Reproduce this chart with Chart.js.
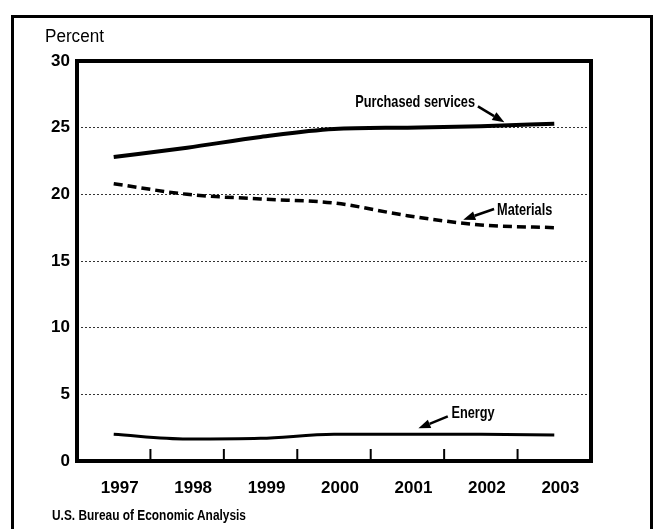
<!DOCTYPE html>
<html>
<head>
<meta charset="utf-8">
<script src="https://cdn.jsdelivr.net/npm/chart.js@4.4.1/dist/chart.umd.min.js"></script>
<style>
  html, body { margin: 0; padding: 0; background: #fff; }
  #wrap { position: relative; width: 654px; height: 529px; overflow: hidden; }
  #frame { position: absolute; left: 11px; top: 15px; width: 642px; height: 600px; border: 3px solid #000; box-sizing: border-box; }
  #chart { position: absolute; left: 0; top: 0; }
  .lbl { position: absolute; color: #000; white-space: nowrap; transform-origin: left top; }
  #unit { left: 45px; top: 26px; font: 18px "Liberation Sans", Arial, sans-serif; transform: scaleX(0.95); }
  #source { left: 52px; top: 507px; font: bold 14px "Liberation Sans", Arial, sans-serif; transform: scaleX(0.85); }
</style>
</head>
<body>
<div id="wrap">
  <div id="frame"></div>
  <canvas id="chart" width="654" height="529"></canvas>
  <div class="lbl" id="unit">Percent</div>
  <div class="lbl" id="source">U.S. Bureau of Economic Analysis</div>
</div>
<script>
const years = ["1997", "1998", "1999", "2000", "2001", "2002", "2003"]
const purchasedServices = [22.8, 23.5, 24.3, 24.9, 25.0, 25.1, 25.3]
const materials = [20.8, 20.0, 19.65, 19.35, 18.4, 17.7, 17.5]
const energy = [2.0, 1.65, 1.7, 2.0, 2.0, 2.0, 1.95]
const yMin = 0
const yMax = 30
const yStep = 5

const tickFont = { family: "'Liberation Sans', Arial, sans-serif", size: 17, weight: "bold" }
const noteFont = "bold 17px 'Liberation Sans', Arial, sans-serif"
const noteSqueeze = 0.75

// label text, anchor (category index, value), arrow tail -> head
const notes = [
  { text: "Purchased services", at: [4.92, 26.9], align: "right", from: [4.96, 26.6], to: [5.32, 25.4] },
  { text: "Materials", at: [5.22, 18.8], align: "left", from: [5.18, 18.9], to: [4.76, 18.1] },
  { text: "Energy", at: [4.6, 3.6], align: "left", from: [4.55, 3.35], to: [4.15, 2.45] },
]

function drawArrow(ctx, x1, y1, x2, y2) {
  const ang = Math.atan2(y2 - y1, x2 - x1)
  const headLen = 12
  const bx = x2 - headLen * Math.cos(ang)
  const by = y2 - headLen * Math.sin(ang)
  ctx.lineWidth = 2.5
  ctx.beginPath()
  ctx.moveTo(x1, y1)
  ctx.lineTo(bx, by)
  ctx.stroke()
  ctx.beginPath()
  ctx.moveTo(x2, y2)
  ctx.lineTo(bx + 4.5 * Math.sin(ang), by - 4.5 * Math.cos(ang))
  ctx.lineTo(bx - 4.5 * Math.sin(ang), by + 4.5 * Math.cos(ang))
  ctx.closePath()
  ctx.fill()
}

const framePlugin = {
  id: "frame",
  afterDatasetsDraw(chart) {
    const { ctx, chartArea: a, scales } = chart
    const xs = scales.x
    const ys = scales.y
    ctx.save()
    ctx.strokeStyle = "#000"
    ctx.fillStyle = "#000"
    ctx.lineWidth = 4
    ctx.strokeRect(a.left, a.top, a.right - a.left, a.bottom - a.top)
    // inward tick marks between years
    ctx.lineWidth = 2
    for (let i = 1; i < years.length; i++) {
      const x = (xs.getPixelForValue(i - 1) + xs.getPixelForValue(i)) / 2
      ctx.beginPath()
      ctx.moveTo(x, a.bottom)
      ctx.lineTo(x, a.bottom - 12)
      ctx.stroke()
    }
    ctx.font = noteFont
    ctx.textBaseline = "middle"
    notes.forEach((n) => {
      ctx.save()
      ctx.translate(xs.getPixelForValue(n.at[0]), ys.getPixelForValue(n.at[1]))
      ctx.scale(noteSqueeze, 1)
      ctx.textAlign = n.align
      ctx.fillText(n.text, 0, 0)
      ctx.restore()
      drawArrow(
        ctx,
        xs.getPixelForValue(n.from[0]), ys.getPixelForValue(n.from[1]),
        xs.getPixelForValue(n.to[0]), ys.getPixelForValue(n.to[1])
      )
    })
    ctx.restore()
  },
}

const ctx = document.getElementById("chart").getContext("2d")
new Chart(ctx, {
  type: "line",
  data: {
    labels: years,
    datasets: [
      { label: "Purchased services", data: purchasedServices, borderColor: "#000", borderWidth: 4 },
      { label: "Materials", data: materials, borderColor: "#000", borderWidth: 3.5, borderDash: [9, 5] },
      { label: "Energy", data: energy, borderColor: "#000", borderWidth: 3 },
    ],
  },
  options: {
    responsive: false,
    animation: false,
    layout: { padding: { left: 0, top: 61, right: 63, bottom: 0 } },
    elements: {
      point: { radius: 0 },
      line: { tension: 0.3, cubicInterpolationMode: "monotone", fill: false },
    },
    plugins: {
      legend: { display: false },
      tooltip: { enabled: false },
    },
    scales: {
      x: {
        type: "category",
        offset: true,
        grid: { display: false },
        border: { display: false },
        ticks: { font: tickFont, color: "#000", padding: 9, labelOffset: 6, maxRotation: 0 },
        afterFit: (scale) => { scale.height = 68 },
      },
      y: {
        min: yMin,
        max: yMax,
        grid: { color: "#333", lineWidth: 1, drawTicks: false },
        border: { display: false, dash: [2, 2] },
        ticks: { stepSize: yStep, font: tickFont, color: "#000", padding: 7 },
        afterFit: (scale) => { scale.width = 77 },
      },
    },
  },
  plugins: [framePlugin],
})
</script>
</body>
</html>
